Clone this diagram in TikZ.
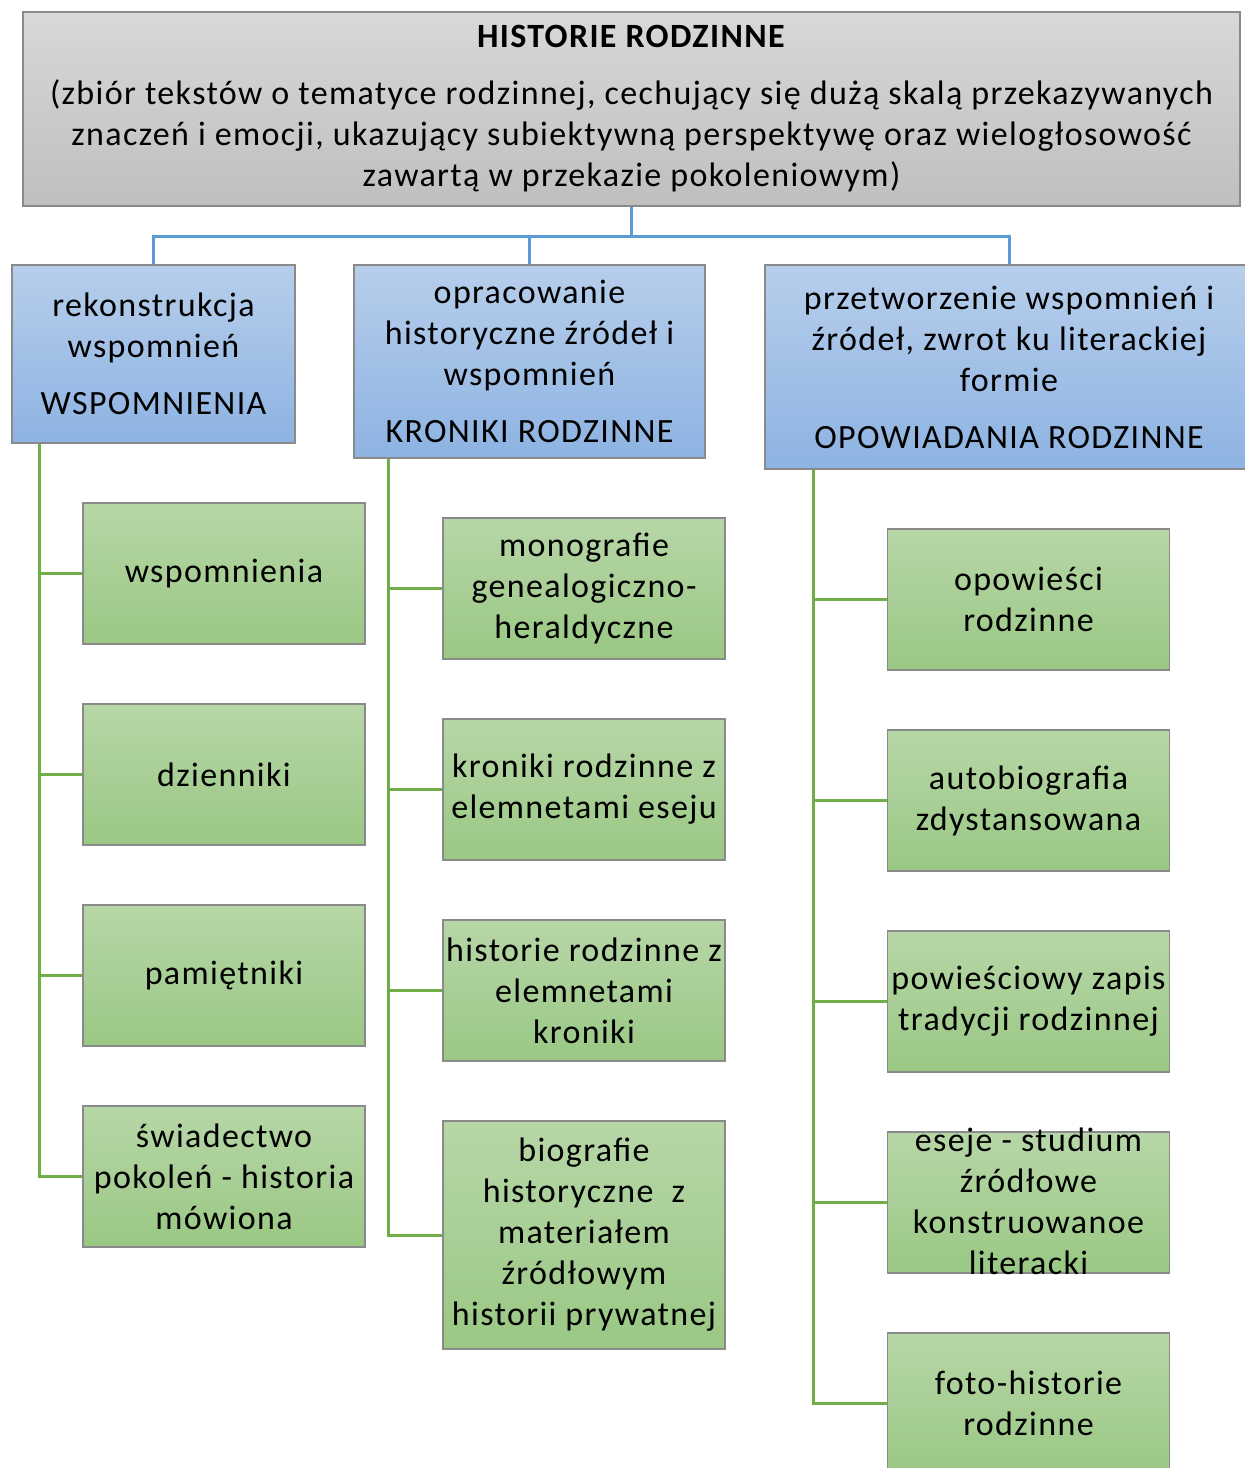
\documentclass[tikz,border=0pt]{standalone}
\usepackage{fontspec}
\setmainfont{Carlito}[LetterSpace=4]
\usepackage{xcolor}
\usepackage{tikz}
\usetikzlibrary{calc}
\definecolor{rootTop}{HTML}{D8D8D8}
\definecolor{rootBottom}{HTML}{BFBFBF}
\definecolor{midTop}{HTML}{B7CEEB}
\definecolor{midBottom}{HTML}{8DB3E2}
\definecolor{leafTop}{HTML}{B7D6A7}
\definecolor{leafBottom}{HTML}{9AC884}
\definecolor{frameColor}{HTML}{8A8A8A}
\definecolor{blueLine}{HTML}{5B9BD5}
\definecolor{greenLine}{HTML}{70AD47}

\begin{document}
\begin{tikzpicture}[x=1pt,y=-1pt,
  box/.style={draw=frameColor,line width=1.5pt,inner sep=0pt,align=center,
    font=\fontsize{34}{41}\selectfont},
  root/.style={box,top color=rootTop,bottom color=rootBottom},
  group/.style={box,top color=midTop,bottom color=midBottom},
  leaf/.style={box,top color=leafTop,bottom color=leafBottom,
    minimum width=282pt,minimum height=141pt},
  bluelink/.style={draw=blueLine,line width=3pt},
  greenlink/.style={draw=greenLine,line width=3pt}]
\path[use as bounding box,fill=white] (0,0) rectangle (1245,1468);

\node[root,minimum width=1217pt,minimum height=194pt] (root) at (631.5,109)
  {\textbf{HISTORIE RODZINNE}\\[16pt]
   (zbiór tekstów o tematyce rodzinnej, cechujący się dużą skalą przekazywanych\\
   znaczeń i emocji, ukazujący subiektywną perspektywę oraz wielogłosowość\\
   zawartą w przekazie pokoleniowym)};

\node[group,minimum width=283pt,minimum height=178pt] (rek) at (153.5,354)
  {rekonstrukcja\\wspomnień\\[16pt]WSPOMNIENIA};
\node[group,minimum width=351pt,minimum height=193pt] (opr) at (529.5,361.5)
  {opracowanie\\historyczne źródeł i\\wspomnień\\[16pt]KRONIKI RODZINNE};
\node[group,minimum width=488pt,minimum height=204pt] (prz) at (1009,367)
  {przetworzenie wspomnień i\\źródeł, zwrot ku literackiej\\formie\\[16pt]OPOWIADANIA RODZINNE};

\node[leaf] (wsp) at (224,573.5) {wspomnienia};
\node[leaf] (dzi) at (224,774.5) {dzienniki};
\node[leaf] (pam) at (224,975.5) {pamiętniki};
\node[leaf] (swi) at (224,1176.5) {świadectwo\\pokoleń - historia\\mówiona};

\node[leaf] (mon) at (584,588.5) {monografie\\genealogiczno-\\heraldyczne};
\node[leaf] (kro) at (584,789.5) {kroniki rodzinne z\\elemnetami eseju};
\node[leaf] (his) at (584,990.5) {historie rodzinne z\\elemnetami\\kroniki};
\node[leaf,minimum height=228pt] (bio) at (584,1235)
  {biografie\\historyczne \ z\\materiałem\\źródłowym\\historii prywatnej};

\node[leaf] (opo) at (1028.5,599.5) {opowieści\\rodzinne};
\node[leaf] (aut) at (1028.5,800.5) {autobiografia\\zdystansowana};
\node[leaf] (pow) at (1028.5,1001.5) {powieściowy zapis\\tradycji rodzinnej};
\node[leaf] (ese) at (1028.5,1202.5)
  {\smash{\raisebox{-.25em}{\begin{tabular}{@{}c@{}}eseje - studium\\źródłowe\\konstruowanoe\\literacki\end{tabular}}}};
\node[leaf] (fot) at (1028.5,1403.5) {foto-historie\\rodzinne};

\foreach \grp in {rek,opr,prz}
  \draw[bluelink] (root.south) -- ++(0,30) -| (\grp.north);

\foreach \leafname in {wsp,dzi,pam,swi}
  \draw[greenlink] ($(rek.south west)+(28,0)$) |- (\leafname.west);
\foreach \leafname in {mon,kro,his,bio}
  \draw[greenlink] ($(opr.south west)+(35,0)$) |- (\leafname.west);
\foreach \leafname in {opo,aut,pow,ese,fot}
  \draw[greenlink] ($(prz.south west)+(49,0)$) |- (\leafname.west);
\end{tikzpicture}
\end{document}
